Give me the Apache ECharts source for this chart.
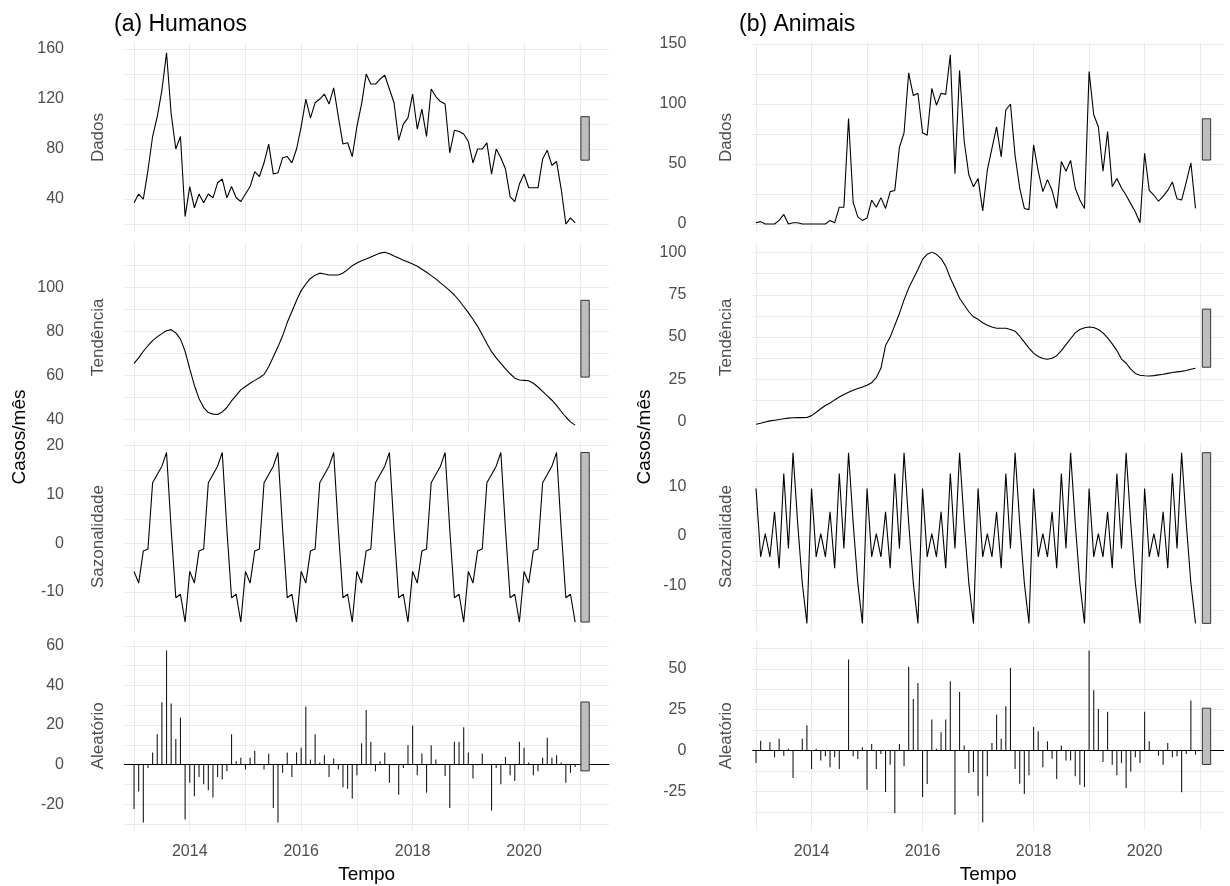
<!DOCTYPE html>
<html>
<head>
<meta charset="utf-8">
<script src="https://cdn.jsdelivr.net/npm/echarts@6/dist/echarts.min.js"></script>
<style>
  html, body { margin: 0; padding: 0; background: #fff; }
  #chart { width: 1230px; height: 886px; }
</style>
</head>
<body>
<div id="chart"></div>
<script>
// Monthly series, Jan 2013 .. Dec 2020 (STL decomposition)
const humanosDados = [
  37, 44, 40, 63, 90, 106, 127, 157, 108, 80, 90, 26,
  50, 33, 44, 37, 44, 41, 53, 56, 41, 50, 41, 38,
  44, 50, 62, 58, 69, 84, 60, 61, 73, 74, 69, 80,
  98, 120, 105, 117, 120, 124, 116, 129, 106, 84, 85, 74,
  98, 116, 140, 132, 132, 136, 139, 128, 117, 87, 100, 105,
  124, 96, 112, 90, 128, 122, 118, 116, 77, 95, 94, 92,
  86, 69, 80, 80, 85, 60, 80, 73, 64, 42, 38, 52,
  60, 49, 49, 49, 72, 79, 67, 70, 48, 20, 25, 21
];
const humanosTendencia = [
  65.5, 68, 71, 73.5, 75.8, 77.5, 79, 80.3, 80.8, 79.3, 76.5, 71,
  63, 55.5, 49.5, 45.5, 43.2, 42.5, 42.3, 43.5, 45.5, 48.5, 51, 53.5,
  55, 56.5, 57.8, 59, 60.5, 64, 68.5, 73, 78, 84, 89, 94,
  98.5, 101.5, 104, 105.5, 106.4, 106, 105.6, 105.6, 105.6, 106.5, 108, 109.8,
  111, 112, 112.8, 113.7, 114.6, 115.5, 115.9, 115.2, 114.2, 113.3, 112.3, 111.5,
  110.5, 109.5, 108.2, 106.8, 105.3, 103.8, 102, 100.3, 98.5, 96.5, 94, 91.3,
  88.5, 85.5, 82.3, 78.5, 74.5, 70.8, 68, 65.5, 63, 60.8, 58.8, 58,
  57.8, 57.6, 56.5, 54.8, 52.8, 50.8, 48.8, 46.5, 43.7, 41.2, 39, 37.5
];
const humanosSazonalidade = [
  -5.8, -8.2, -1.6, -1.2, 12.4, 14.1, 15.8, 18.6, 2.8, -11.2, -10.5, -16.2,
  -5.8, -8.2, -1.6, -1.2, 12.4, 14.1, 15.8, 18.6, 2.8, -11.2, -10.5, -16.2,
  -5.8, -8.2, -1.6, -1.2, 12.4, 14.1, 15.8, 18.6, 2.8, -11.2, -10.5, -16.2,
  -5.8, -8.2, -1.6, -1.2, 12.4, 14.1, 15.8, 18.6, 2.8, -11.2, -10.5, -16.2,
  -5.8, -8.2, -1.6, -1.2, 12.4, 14.1, 15.8, 18.6, 2.8, -11.2, -10.5, -16.2,
  -5.8, -8.2, -1.6, -1.2, 12.4, 14.1, 15.8, 18.6, 2.8, -11.2, -10.5, -16.2,
  -5.8, -8.2, -1.6, -1.2, 12.4, 14.1, 15.8, 18.6, 2.8, -11.2, -10.5, -16.2,
  -5.8, -8.2, -1.6, -1.2, 12.4, 14.1, 15.8, 18.6, 2.8, -11.2, -10.5, -16.2
];
const humanosAleatorio = [
  -22.4, -13.6, -29.2, -1.7, 6.1, 15.3, 31.5, 57.6, 30.8, 12.9, 23.7, -27.8,
  -9.2, -16, -6.3, -10, -13, -16.6, -6.3, -7.6, -3.4, 15.3, 1.7, 3.4,
  -2.5, 3.4, 7, -0.3, -2.5, 5.4, -21.9, -29.2, -4.1, 6.1, -6.3, 6.1,
  8.5, 29.3, 2.5, 15.3, 1, 4.7, -6.3, 3, -2.5, -11.4, -12.2, -17.3,
  -5.4, 10.7, 27.6, 11.5, -3.4, 1.7, 6.1, -9.2, -0.3, -15.3, -1.7, 9.8,
  19.7, -5.4, 5.6, -14.2, 9.8, 2.5, 0.3, -5.8, -21.9, 11.5, 11.5, 18.8,
  6.1, -7.1, -0.4, 5.6, 0.3, -23.2, -1.7, -10, 3.9, -5.4, -8.3, 11.5,
  8.5, 1, -5.4, -3.4, 3.4, 13.6, 3.4, 4.7, 1, -9.2, -4.1, -1.2
];

const animaisDados = [
  1, 2, 0, 0, 0, 3, 8, 0, 1, 1, 0, 0,
  0, 0, 0, 0, 3, 1, 14, 14, 88, 18, 6, 3,
  5, 20, 14, 22, 13, 27, 28, 64, 76, 126, 107, 109,
  76, 74, 113, 99, 109, 108, 141, 42, 128, 69, 41, 31,
  38, 11, 45, 63, 81, 56, 95, 100, 57, 30, 13, 12,
  66, 44, 27, 37, 28, 13, 52, 44, 53, 30, 20, 13,
  127, 91, 81, 44, 77, 31, 38, 30, 24, 17, 10, 1,
  59, 28, 24, 19, 23, 28, 35, 21, 20, 35, 51, 13
];
const animaisTendencia = [
  -1.6, -1, -0.3, 0.4, 0.8, 1.2, 1.6, 2, 2.2, 2.3, 2.3, 2.4,
  3.5, 5.5, 7.6, 9.5, 11, 12.8, 14.5, 16, 17.3, 18.5, 19.5, 20.5,
  21.5, 23, 26, 31.5, 45, 50, 57, 64, 72, 79, 84.5, 90,
  96, 99, 100.3, 99, 96.5, 92, 85, 79, 73, 69, 65, 62,
  60.5, 58.5, 57, 56, 55.2, 55.2, 55.2, 54.5, 53.5, 50.5, 47, 43.5,
  40.5, 38.5, 37.3, 36.9, 37.5, 39, 42, 45.5, 49, 52.5, 54.5, 55.5,
  56, 55.7, 54.5, 52.5, 49.5, 46, 42, 37, 34.5, 31, 28.5, 27.4,
  27.1, 27, 27.2, 27.6, 28, 28.5, 29, 29.4, 29.7, 30.2, 31, 31.5
];
const animaisSazonalidade = [
  9.6, -4.2, 0.5, -4.2, 4.9, -6.5, 12.6, -2.5, 16.8, 2.6, -9.5, -17.6,
  9.6, -4.2, 0.5, -4.2, 4.9, -6.5, 12.6, -2.5, 16.8, 2.6, -9.5, -17.6,
  9.6, -4.2, 0.5, -4.2, 4.9, -6.5, 12.6, -2.5, 16.8, 2.6, -9.5, -17.6,
  9.6, -4.2, 0.5, -4.2, 4.9, -6.5, 12.6, -2.5, 16.8, 2.6, -9.5, -17.6,
  9.6, -4.2, 0.5, -4.2, 4.9, -6.5, 12.6, -2.5, 16.8, 2.6, -9.5, -17.6,
  9.6, -4.2, 0.5, -4.2, 4.9, -6.5, 12.6, -2.5, 16.8, 2.6, -9.5, -17.6,
  9.6, -4.2, 0.5, -4.2, 4.9, -6.5, 12.6, -2.5, 16.8, 2.6, -9.5, -17.6,
  9.6, -4.2, 0.5, -4.2, 4.9, -6.5, 12.6, -2.5, 16.8, 2.6, -9.5, -17.6
];
const animaisAleatorio = [
  -7.6, 6.1, 0.3, 5.3, -4.1, 7.3, -3.1, 1.2, -16.7, 0.3, 7.3, 15.5,
  -11.2, 1.2, -6.1, -3.5, -10.2, -4.1, -11.2, 0.3, 55.7, -3.5, -5.1, 2,
  -23.9, 4.1, -11.2, -2, -25.3, -8.6, -38.2, 4.1, -9.6, 51.2, 31.6, 41.4,
  -28.4, -20.4, 19, 1.2, 11.2, 19, 42.4, -39.2, 35.9, 3.1, -13.7, -13.1,
  -27.6, -43.7, -15.7, 4.7, 22, 7.3, 27.1, 50.6, -11.2, -20.2, -26.5, -15.1,
  14.5, 11.8, -10.2, 5.7, -4.9, -17.3, 3.1, -6.1, -6.1, -15.7, -20.8, -22.2,
  61.2, 36.9, 25.5, -6.9, 23.7, -8.6, -15.1, -7.6, -22.9, -12.7, -4.1, -7.6,
  23.7, 5.7, 0.3, -3.1, -8.6, 4.7, -4.1, -3.5, -25.5, -2, 30.6, -2.4
];

const componentNames = ['Dados', 'Tendência', 'Sazonalidade', 'Aleatório'];
const yearGrid = [2013, 2014, 2015, 2016, 2017, 2018, 2019, 2020, 2021];
const yearLabels = [2014, 2016, 2018, 2020];

// y tick positions (grid lines) and labels per panel
const humanosGrid = [
  [20, 40, 60, 80, 100, 120, 140, 160],
  [40, 50, 60, 70, 80, 90, 100, 110],
  [-15, -10, -5, 0, 5, 10, 15, 20],
  [-30, -20, -10, 0, 10, 20, 30, 40, 50, 60]
];
const humanosLabels = [
  [40, 80, 120, 160],
  [40, 60, 80, 100],
  [-10, 0, 10, 20],
  [-20, 0, 20, 40, 60]
];
const animaisGrid = [
  [0, 25, 50, 75, 100, 125, 150],
  [0, 12.5, 25, 37.5, 50, 62.5, 75, 87.5, 100],
  [-15, -10, -5, 0, 5, 10, 15],
  [-37.5, -25, -12.5, 0, 12.5, 25, 37.5, 50, 62.5]
];
const animaisLabels = [
  [0, 50, 100, 150],
  [0, 25, 50, 75, 100],
  [-10, 0, 10],
  [-25, 0, 25, 50]
];

const months = humanosDados.map((_, i) => 2013 + i / 12);

const FONT = '"Liberation Sans", Arial, sans-serif';
const GRID_COLOR = '#ebebeb';
const TEXT_GREY = '#4d4d4d';

const panelTops = [42.8, 242.5, 441.8, 641];
const panelHeight = 189.5;

const columns = [
  {
    title: '(a) Humanos', titleLeft: 109, yTitleX: 20,
    left: 124, width: 485.3, xMin: 2012.82, xMax: 2021.53,
    labelMargin: 60, stripGap: 17, barX: [2021.02, 2021.17],
    data: [humanosDados, humanosTendencia, humanosSazonalidade, humanosAleatorio],
    grid: humanosGrid, labels: humanosLabels,
    yRange: [[13.4, 165], [34.4, 120.3], [-18.1, 20.8], [-33.3, 62.4]]
  },
  {
    title: '(b) Animais', titleLeft: 734, yTitleX: 645,
    left: 752.3, width: 471.7, xMin: 2012.933, xMax: 2021.43,
    labelMargin: 66, stripGap: 17, barX: [2021.04, 2021.19],
    data: [animaisDados, animaisTendencia, animaisSazonalidade, animaisAleatorio],
    grid: animaisGrid, labels: animaisLabels,
    yRange: [[-6.9, 151], [-6.2, 106], [-19.2, 19], [-48.8, 67]]
  }
];

const grids = [], xAxes = [], yAxes = [], series = [], titles = [], graphics = [];

columns.forEach((col, c) => {
  titles.push({
    text: col.title, left: col.titleLeft, top: 8,
    textStyle: { fontSize: 23, fontWeight: 'normal', color: '#000', fontFamily: FONT }
  });
  graphics.push({
    type: 'text', x: col.yTitleX, y: 437, rotation: Math.PI / 2,
    style: { text: 'Casos/mês', fontSize: 19, fill: '#000', fontFamily: FONT, align: 'center', verticalAlign: 'middle' }
  });

  const seas = col.data[2];
  const barHalf = (Math.max(...seas) - Math.min(...seas)) / 2;

  for (let r = 0; r < 4; r++) {
    const k = c * 4 + r;
    const vals = col.data[r];
    grids.push({ left: col.left, top: panelTops[r], width: col.width, height: panelHeight });

    xAxes.push({
      type: 'value', gridIndex: k, min: col.xMin, max: col.xMax,
      axisLine: { show: false },
      axisTick: { show: false, customValues: yearGrid },
      splitLine: { show: true, lineStyle: { color: GRID_COLOR, width: 1 } },
      axisLabel: r === 3
        ? { show: true, customValues: yearLabels, margin: 13, fontSize: 16, color: TEXT_GREY, fontFamily: FONT,
            formatter: v => String(v) }
        : { show: false },
      name: r === 3 ? 'Tempo' : '',
      nameLocation: 'middle', nameGap: 35, nameMoveOverlap: false,
      nameTextStyle: { fontSize: 19, color: '#000', fontFamily: FONT }
    });

    yAxes.push({
      type: 'value', gridIndex: k, min: col.yRange[r][0], max: col.yRange[r][1],
      axisLine: { show: false },
      axisTick: { show: false, customValues: col.grid[r] },
      splitLine: { show: true, lineStyle: { color: GRID_COLOR, width: 1 } },
      axisLabel: { customValues: col.labels[r], margin: col.labelMargin, fontSize: 16, color: TEXT_GREY, fontFamily: FONT,
                   formatter: v => String(v) },
      name: componentNames[r], nameLocation: 'middle', nameGap: col.stripGap, nameMoveOverlap: false,
      nameTextStyle: { fontSize: 17, color: TEXT_GREY, fontFamily: FONT }
    });

    const points = months.map((t, i) => [t, vals[i]]);

    if (r < 3) {
      series.push({
        type: 'line', xAxisIndex: k, yAxisIndex: k, data: points,
        showSymbol: false, symbol: 'none', silent: true,
        lineStyle: { color: '#000', width: 1.1 }
      });
    } else {
      series.push({
        type: 'custom', xAxisIndex: k, yAxisIndex: k, data: points, silent: true,
        encode: { x: 0, y: 1 },
        renderItem: (params, api) => {
          const p0 = api.coord([api.value(0), 0]);
          const p1 = api.coord([api.value(0), api.value(1)]);
          return {
            type: 'line',
            shape: { x1: p0[0], y1: p0[1], x2: p1[0], y2: p1[1] },
            style: { stroke: '#1a1a1a', lineWidth: 1.1 }
          };
        },
        markLine: {
          silent: true, symbol: 'none', label: { show: false },
          lineStyle: { color: '#000', width: 1.2, type: 'solid' },
          data: [{ yAxis: 0 }]
        }
      });
    }

    // range bar: same length (seasonal range) in every panel, centred on panel data
    const mid = (Math.max(...vals) + Math.min(...vals)) / 2;
    series.push({
      type: 'custom', xAxisIndex: k, yAxisIndex: k, silent: true, z: 5,
      data: [[col.barX[0], col.barX[1], mid - barHalf, mid + barHalf]],
      encode: { x: [0, 1], y: [2, 3] },
      renderItem: (params, api) => {
        const a = api.coord([api.value(0), api.value(3)]);
        const b = api.coord([api.value(1), api.value(2)]);
        return {
          type: 'rect',
          shape: { x: a[0], y: a[1], width: b[0] - a[0], height: b[1] - a[1] },
          style: { fill: '#bebebe', stroke: '#333', lineWidth: 1 }
        };
      }
    });
  }
});

const chart = echarts.init(document.getElementById('chart'), null, { renderer: 'canvas' });
chart.setOption({
  animation: false,
  backgroundColor: '#fff',
  textStyle: { fontFamily: FONT },
  title: titles,
  graphic: graphics,
  grid: grids,
  xAxis: xAxes,
  yAxis: yAxes,
  series: series
});
</script>
</body>
</html>
